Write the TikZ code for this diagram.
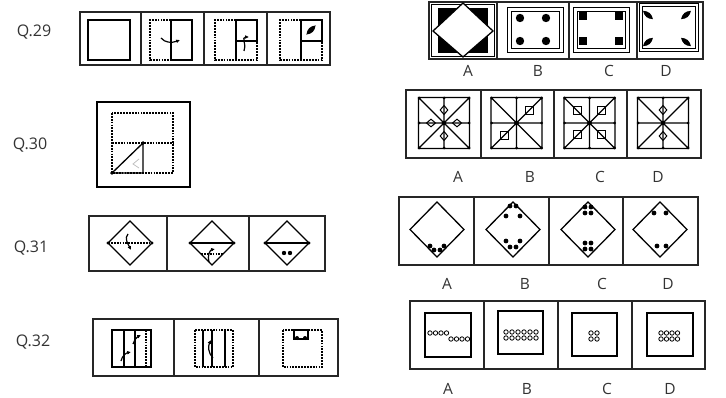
\documentclass[tikz,border=0pt]{standalone}
\usepackage{fontspec}
\setmainfont{Open Sans}
\usetikzlibrary{arrows.meta}
% black leaf: centre x, centre y, angle
\newcommand{\leafshape}[3]{%
  \fill[shift={(#1,#2)},rotate=#3] (-6.5,0) .. controls (-2,-3.4) and (2,-3.4) .. (6.5,0)
    .. controls (2,3.4) and (-2,3.4) .. (-6.5,0);}
% rhombus: centre x, centre y, half height, half width
\newcommand{\rhomb}[4]{%
  \draw[line width=1pt] (#1-#4,#2) -- (#1,#2-#3) -- (#1+#4,#2) -- (#1,#2+#3) -- cycle;}
\begin{document}
\begin{tikzpicture}[x=1pt,y=-1pt,
  strip/.style={line width=1.6pt,draw=black!85},
  fig/.style={line width=1.3pt},
  twin/.style={line width=1pt},
  dotline/.style={line width=1.3pt,dash pattern=on 1.8pt off 1.1pt},
  foldarr/.style={line width=1.2pt,-{Latex[length=3.8pt,width=3.8pt]}},
  qlbl/.style={text=black!80,font=\fontsize{16}{16}\selectfont},
  lbl/.style={text=black!80,font=\fontsize{15.5}{16}\selectfont}]
\useasboundingbox (0,0) rectangle (726,398);

% Q.29 question strip
\node[qlbl] (q29) at (34,32) {Q.29};
\draw[strip] (80,12) rectangle (330,65);
\foreach \x in {141,204,267} \draw[strip] (\x,12) -- (\x,65);
\draw[fig] (88,20) rectangle (130,60);
\draw[dotline] (171,20) -- (150,20) -- (150,60) -- (171,60);
\draw[fig] (171,20) rectangle (192,60);
\draw[foldarr] (161,38) .. controls (165,43) and (172,43) .. (180,40);
\draw[dotline] (236,20) -- (215,20) -- (215,60) -- (257,60) -- (257,41);
\draw[fig] (236,20) rectangle (257,41) (236,41) -- (236,60);
\draw[foldarr] (244,51) .. controls (247,45) and (241,37) .. (249,37);
\draw[dotline] (301,20) -- (280,20) -- (280,60) -- (322,60) -- (322,41);
\draw[fig] (301,20) rectangle (322,41) (301,41) -- (301,60);
\leafshape{311}{30}{45}

% Q.29 answer figures
\draw[strip] (429,2) rectangle (703,59);
\foreach \x in {497,569,637} \draw[strip] (\x,2) -- (\x,59);
\draw[line width=0.9pt] (431.5,4.5) rectangle (494.5,56.5);
\fill (438,8) rectangle (488,53);
\draw[fig,fill=white] (433,31) -- (463,3) -- (493,31) -- (463,57) -- cycle;
\draw[twin] (507,8) rectangle (563,53) (511,12) rectangle (559,49);
\foreach \x in {520,546} \foreach \y in {18,41} \fill (\x,\y) circle (4.2);
\draw[twin] (573,8) rectangle (629,53) (577,12) rectangle (625,49);
\foreach \x in {579,615} \foreach \y in {12,37} \fill (\x,\y) rectangle ++(8,8);
\draw[twin] (639,4) rectangle (698,52) (642,7) rectangle (695,49);
\leafshape{648}{15}{-40} \leafshape{686}{15}{40}
\leafshape{648}{42}{40} \leafshape{686}{42}{-40}
\node[lbl] (a29) at (468,71) {A};
\node[lbl] (b29) at (538,71) {B};
\node[lbl] (c29) at (609,71) {C};
\node[lbl] (d29) at (666,71) {D};

% Q.30 question figure
\node[qlbl] (q30) at (30,145) {Q.30};
\draw[line width=1.8pt] (97,102) rectangle (190,187);
\draw[dotline] (112,113) rectangle (173,173) (112,143) -- (173,143);
\draw[fig] (143,143) -- (143,173) -- (112,173) -- cycle;
\fill (112,173) circle (1.8) (143,143) circle (1.8);
\draw[black!25,line width=0.8pt] (139,159) -- (133,164) -- (139,168);

% Q.30 answer figures
\draw[strip] (406,90) rectangle (701,158);
\foreach \x in {481,554,627} \draw[strip] (\x,90) -- (\x,158);
\foreach \cx in {444,516.5,589.5,663} {
  \draw[fig] (\cx-25.5,97.5) rectangle (\cx+25.5,148.5)
    (\cx-25.5,97.5) -- (\cx+25.5,148.5) (\cx-25.5,148.5) -- (\cx+25.5,97.5)
    (\cx,97.5) -- (\cx,148.5) (\cx-25.5,123) -- (\cx+25.5,123);
  \fill (\cx,123) circle (2.3);
  \foreach \dx/\dy in {-25/-25,0/-25,25/-25,-25/0,25/0,-25/25,0/25,25/25}
    \fill (\cx+\dx,123+\dy) circle (1.5);
}
\rhomb{444}{110}{4.5}{3.8} \rhomb{444}{136}{4.5}{3.8}
\rhomb{431}{123}{3.8}{4.5} \rhomb{457}{123}{3.8}{4.5}
\foreach \x/\y in {529/110.5,504/135.5,577.5/111,601.5/111,577.5/135,601.5/135}
  \draw[line width=1pt] (\x-4,\y-4) rectangle (\x+4,\y+4);
\rhomb{663}{110}{4.5}{3.8} \rhomb{663}{136}{4.5}{3.8}
\node[lbl] (a30) at (458,177) {A};
\node[lbl] (b30) at (530,177) {B};
\node[lbl] (c30) at (600,177) {C};
\node[lbl] (d30) at (658,177) {D};

% Q.31 question strip
\node[qlbl] (q31) at (31,248) {Q.31};
\draw[strip] (89,216) rectangle (325,271);
\foreach \x in {167,249} \draw[strip] (\x,216) -- (\x,271);
\foreach \cx in {130,212,287} {
  \draw[fig] (\cx-22,243) -- (\cx,221) -- (\cx+22,243) -- (\cx,265) -- cycle;
  \fill (\cx-22,243) circle (1.7) (\cx+22,243) circle (1.7);
}
\draw[dotline] (108,243) -- (152,243);
\draw[foldarr] (128,234) .. controls (124,238) and (128,244) .. (131,250);
\draw[fig] (190,243) -- (234,243);
\draw[dotline] (201,254) -- (223,254);
\draw[foldarr] (209,262) .. controls (207,256) and (210,250) .. (215,249);
\draw[fig] (265,243) -- (309,243);
\fill (284,253) circle (2.2) (290,253) circle (2.2);

% Q.31 answer figures
\draw[strip] (399,197) rectangle (698,265);
\foreach \x in {474,549,623} \draw[strip] (\x,197) -- (\x,265);
\foreach \cx in {437,513,588,660}
  \draw[fig] (\cx-27,229.5) -- (\cx,202) -- (\cx+27,229.5) -- (\cx,257) -- cycle;
\foreach \dx/\dy in {-7/17,-3/21,3/21,7/17} \fill (437+\dx,229+\dy) circle (2.4);
\foreach \dx/\dy in {-3/-23,3/-23,-7/-13,7/-13,-7/12,7/12,-3/18,3/18}
  \fill (513+\dx,229+\dy) circle (2.4);
\foreach \dx/\dy in {-3/-22,3/-22,-3/-16,3/-16,-3/14,3/14,-3/20,3/20}
  \fill (588+\dx,229+\dy) circle (2.4);
\foreach \dx/\dy in {-6/-16,6/-16,-3/17,6/17} \fill (660+\dx,229+\dy) circle (2.4);
\node[lbl] (a31) at (447,284) {A};
\node[lbl] (b31) at (525,284) {B};
\node[lbl] (c31) at (602,284) {C};
\node[lbl] (d31) at (668,284) {D};

% Q.32 question strip
\node[qlbl] (q32) at (33,342) {Q.32};
\draw[strip] (93,319) rectangle (338,376);
\foreach \x in {174,259} \draw[strip] (\x,319) -- (\x,376);
\draw[fig] (112,330) rectangle (151,367) (124,330) -- (124,367) (135,330) -- (135,367);
\draw[dotline] (146,330) -- (146,367);
\draw[foldarr] (133,344) .. controls (135,339) and (137,337) .. (141,335);
\draw[foldarr] (121,361) .. controls (122,356) and (126,353) .. (131,352);
\draw[dotline] (195,330) rectangle (233,367);
\draw[fig] (203,330) -- (203,367) (212,330) -- (212,367) (225,330) -- (225,367);
\draw[foldarr] (213,358) .. controls (208,353) and (208,346) .. (211,340);
\draw[dotline] (283,330) rectangle (322,367);
\draw[fig] (294,330) rectangle (308,339);
\fill (297,338) circle (2) (305,338) circle (2);

% Q.32 answer figures
\draw[strip] (410,301) rectangle (705,369);
\foreach \x in {484,558,632} \draw[strip] (\x,301) -- (\x,369);
\draw[fig] (425,313) rectangle (471,357) (498,311) rectangle (543,354)
  (572,313) rectangle (617,356) (647,313) rectangle (693,356);
\foreach \x in {430,435.5,441,446.5} \draw[line width=0.8pt] (\x,333) circle (2.2);
\foreach \x in {451,456.5,462,467.5} \draw[line width=0.8pt] (\x,339) circle (2.2);
\foreach \x in {506,512,518,524,530,536} \foreach \y in {332,338}
  \draw[line width=0.8pt] (\x,\y) circle (2.2);
\foreach \x in {591,597} \foreach \y in {333,339}
  \draw[line width=0.8pt] (\x,\y) circle (2.2);
\foreach \x in {661,666.5,672,677.5} \foreach \y in {333,339}
  \draw[line width=0.8pt] (\x,\y) circle (2.2);
\node[lbl] (a32) at (448,389) {A};
\node[lbl] (b32) at (527,389) {B};
\node[lbl] (c32) at (607,389) {C};
\node[lbl] (d32) at (670,389) {D};
\end{tikzpicture}
\end{document}
